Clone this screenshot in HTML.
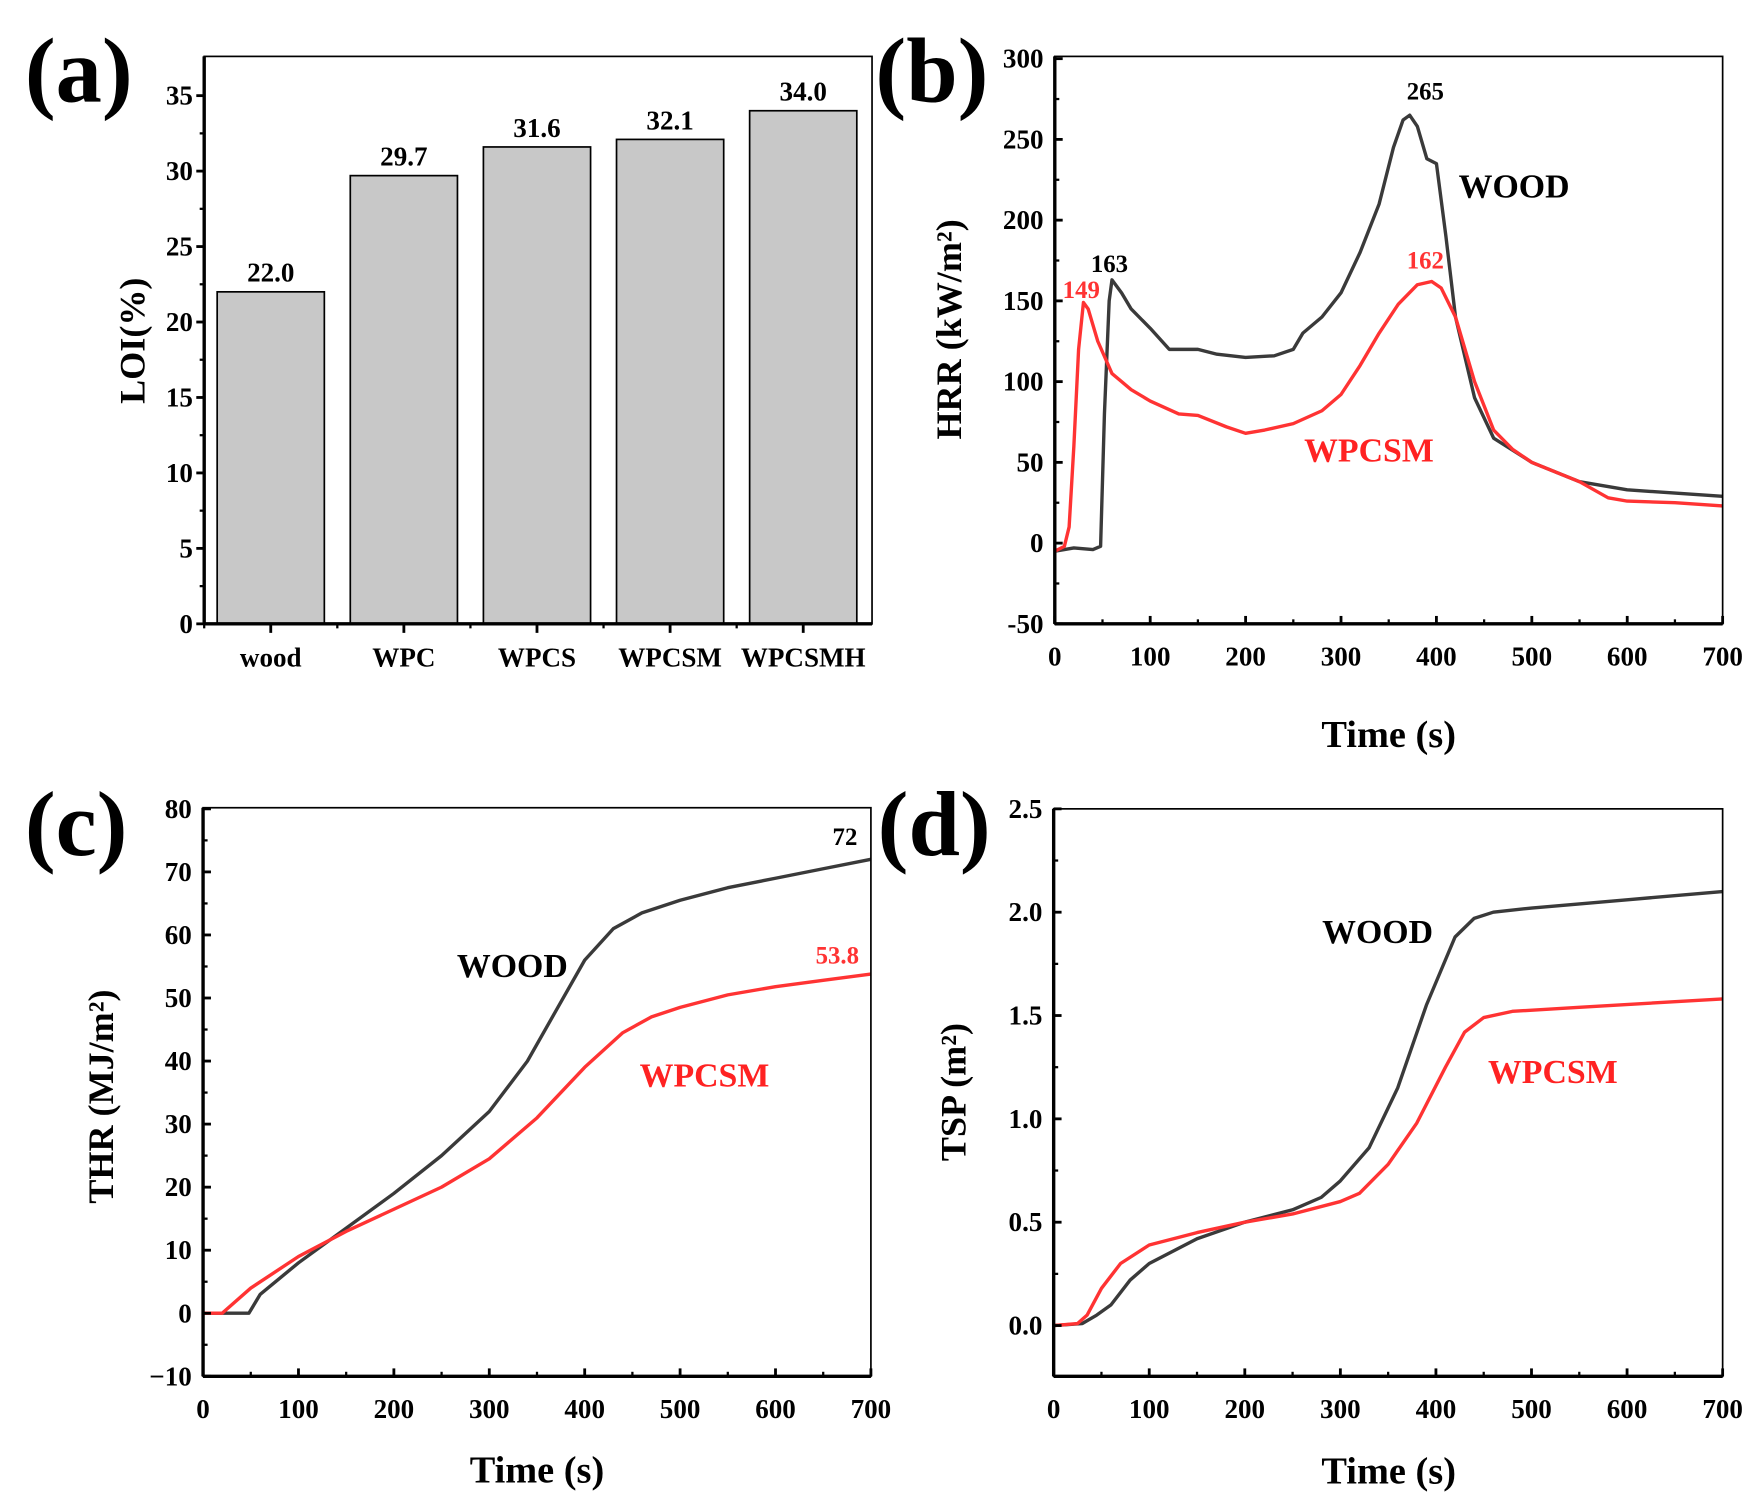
<!DOCTYPE html>
<html><head><meta charset="utf-8">
<style>
html,body{margin:0;padding:0;background:#fff;}
svg{display:block;}
text{font-family:"Liberation Serif",serif;font-weight:bold;}
</style></head>
<body>
<svg id="fig" width="1761" height="1504" viewBox="0 0 1561 1333.2" xmlns="http://www.w3.org/2000/svg"></svg>
<script>
// ---- Panel (a) data ----
const loiCategories = ["wood","WPC","WPCS","WPCSM","WPCSMH"];
const loiValues = [22.0, 29.7, 31.6, 32.1, 34.0];
const loiTicks = [0,5,10,15,20,25,30,35];
// ---- Panel (b) data ----
const hrrWoodT = [0,20,40,48,52,57,60,70,80,100,120,150,170,200,230,250,260,280,300,320,340,355,365,372,380,390,400,410,420,440,460,500,550,600,650,700];
const hrrWoodV = [-5,-3,-4,-2,80,150,163,155,145,133,120,120,117,115,116,120,130,140,155,180,210,245,262,265,258,238,235,190,140,90,65,50,38,33,31,29];
const hrrWpcsmT = [0,10,15,20,25,30,35,45,60,80,100,130,150,180,200,220,250,280,300,320,340,360,380,395,405,420,440,460,480,500,550,580,600,650,700];
const hrrWpcsmV = [-5,-2,10,60,120,149,145,125,105,95,88,80,79,72,68,70,74,82,92,110,130,148,160,162,158,140,100,70,58,50,38,28,26,25,23];
const hrrTicks = [-50,0,50,100,150,200,250,300];
// ---- Panel (c) data ----
const thrWoodT = [0,48,60,100,150,200,250,300,340,370,400,430,460,500,550,600,650,700];
const thrWoodV = [0,0,3,8,13.5,19,25,32,40,48,56,61,63.5,65.5,67.5,69,70.5,72];
const thrWpcsmT = [0,20,50,100,150,200,250,300,350,400,440,470,500,550,600,650,700];
const thrWpcsmV = [0,0,4,9,13,16.5,20,24.5,31,39,44.5,47,48.5,50.5,51.8,52.8,53.8];
const thrTicks = [-10,0,10,20,30,40,50,60,70,80];
// ---- Panel (d) data ----
const tspWoodT = [0,30,45,60,80,100,150,200,250,280,300,330,360,390,420,440,460,500,600,700];
const tspWoodV = [0,0.01,0.05,0.1,0.22,0.3,0.42,0.5,0.56,0.62,0.7,0.86,1.15,1.55,1.88,1.97,2.0,2.02,2.06,2.1];
const tspWpcsmT = [0,25,35,50,70,100,150,200,250,300,320,350,380,410,430,450,480,550,700];
const tspWpcsmV = [0,0.01,0.05,0.18,0.3,0.39,0.45,0.5,0.54,0.6,0.64,0.78,0.98,1.25,1.42,1.49,1.52,1.54,1.58];
const tspTicks = ["0.0","0.5","1.0","1.5","2.0","2.5"];
const timeTicks = [0,100,200,300,400,500,600,700];

const NS="http://www.w3.org/2000/svg";
const svg=document.getElementById('fig');
function mk(tag,attrs,parent,txt){const e=document.createElementNS(NS,tag);for(const k in attrs)e.setAttribute(k,attrs[k]);if(txt!==undefined)e.textContent=txt;(parent||svg).appendChild(e);return e;}
function lin(d0,d1,r0,r1){return v=>r0+(v-d0)*(r1-r0)/(d1-d0);}

function frame(g,L,T,R,B){
  const f=mk('rect',{x:L,y:T,width:R-L,height:B-T,fill:'none',stroke:'#000','stroke-width':1.5},g);
  
  mk('line',{x1:L,y1:T,x2:L,y2:B,stroke:'#000','stroke-width':3},g);
  mk('line',{x1:L,y1:B,x2:R,y2:B,stroke:'#000','stroke-width':3},g);
}
function panelLabel(txt,x,y){const t=mk('text',{x:x,y:y,'font-size':82},svg,txt);}

function yAxis(g,ticks,vals,ys,L,fs,out){
  for(let i=0;i<ticks.length;i++){const y=ys(vals[i]);
    mk('line',{x1:L,y1:y,x2:out?L-7:L+7,y2:y,stroke:'#000','stroke-width':2.5},g);
    const t=mk('text',{x:L-10,y:y+8,'font-size':fs,'text-anchor':'end'},g,ticks[i]);
    
    if(i<ticks.length-1){const ym=ys((vals[i]+vals[i+1])/2);mk('line',{x1:L,y1:ym,x2:out?L-4:L+4,y2:ym,stroke:'#000','stroke-width':2},g);}
  }
}
function xAxisTime(g,xs,B){
  for(let i=0;i<timeTicks.length;i++){const x=xs(timeTicks[i]);
    mk('line',{x1:x,y1:B,x2:x,y2:B-7,stroke:'#000','stroke-width':2.5},g);
    const t=mk('text',{x:x,y:B+37,'font-size':24,'text-anchor':'middle'},g,timeTicks[i]);
    
    if(i<timeTicks.length-1){const xm=xs(timeTicks[i]+50);mk('line',{x1:xm,y1:B,x2:xm,y2:B-4,stroke:'#000','stroke-width':2},g);}
  }
}
function series(g,T,V,xs,ys,col,name){
  const d=T.map((t,i)=>(i?'L':'M')+xs(t).toFixed(1)+','+ys(V[i]).toFixed(1)).join('');
  const p=mk('path',{d:d,fill:'none',stroke:col,'stroke-width':3,'stroke-linejoin':'round'},g);
  
}
function txt(g,s,x,y,fs,col,name,anchor){const t=mk('text',{x:x,y:y,'font-size':fs,fill:col,'text-anchor':anchor||'start'},g,s);return t;}
function vtitle(g,s,x,y,name){const t=mk('text',{x:x,y:y,'font-size':32,'text-anchor':'middle',transform:`rotate(-90 ${x} ${y})`},g,s);}

// ---- (a) ----
(function(){
  const g=mk('g',{});
  const L=181,T=50,R=773,B=553;
  const ys=lin(0,37.6,B,T);
  const xc=i=>240+118*i;
  loiValues.forEach((v,i)=>{
    const r=mk('rect',{x:xc(i)-47.5,y:ys(v),width:95,height:B-ys(v),fill:'#c8c8c8',stroke:'#000','stroke-width':1.5},g);
    
    txt(g,v.toFixed(1),xc(i),ys(v)-9,24,'#000','bar-value-label','middle');
    mk('line',{x1:xc(i),y1:B,x2:xc(i),y2:B+8,stroke:'#000','stroke-width':2.5},g);
    txt(g,loiCategories[i],xc(i),B+38,24,'#000','x-category-label','middle');
    if(i<loiValues.length){mk('line',{x1:xc(i)-59,y1:B,x2:xc(i)-59,y2:B+4,stroke:'#000','stroke-width':2},g);}
  });
  frame(g,L,T,R,B);
  yAxis(g,loiTicks,loiTicks,ys,L,24,true);
  vtitle(g,'LOI(%)',128,302,'y-axis-title');
  panelLabel('(a)',22,90);
})();
// ---- (b) ----
(function(){
  const g=mk('g',{});
  const L=935,T=50,R=1527,B=553;
  const xs=lin(0,700,L,R),ys=lin(-50,300,B,52);
  series(g,hrrWoodT,hrrWoodV,xs,ys,'#3a3a3a','wood-hrr-line');
  series(g,hrrWpcsmT,hrrWpcsmV,xs,ys,'#ff3333','wpcsm-hrr-line');
  frame(g,L,T,R,B);
  yAxis(g,hrrTicks,hrrTicks,ys,L,24,false);
  xAxisTime(g,xs,B);
  txt(g,'265',1247,88,22,'#000','peak-label-wood');
  txt(g,'163',967,241,22,'#000','peak-label-wood-first');
  txt(g,'149',942,264,22,'#ff3333','peak-label-wpcsm-first');
  txt(g,'162',1247,238,22,'#ff3333','peak-label-wpcsm','start');
  txt(g,'WOOD',1293,175,30,'#000','legend-wood');
  txt(g,'WPCSM',1156,409,30,'#ff2222','legend-wpcsm');
  vtitle(g,'HRR (kW/m²)',852,292,'y-axis-title');
  txt(g,'Time (s)',1231,662,34,'#000','x-axis-title','middle');
  panelLabel('(b)',776,90);
})();
// ---- (c) ----
(function(){
  const g=mk('g',{});
  const L=180,T=716,R=772,B=1220;
  const xs=lin(0,700,L,R),ys=lin(-10,80,B,717);
  series(g,thrWoodT,thrWoodV,xs,ys,'#3a3a3a','wood-thr-line');
  series(g,thrWpcsmT,thrWpcsmV,xs,ys,'#ff3333','wpcsm-thr-line');
  frame(g,L,T,R,B);
  yAxis(g,thrTicks.map(v=>v<0?'−'+(-v):v),thrTicks,ys,L,24,false);
  xAxisTime(g,xs,B);
  txt(g,'72',738,749,22,'#000','end-label-wood');
  txt(g,'53.8',723,854,22,'#ff3333','end-label-wpcsm');
  txt(g,'WOOD',405,866,30,'#000','legend-wood');
  txt(g,'WPCSM',567,963,30,'#ff2222','legend-wpcsm');
  vtitle(g,'THR (MJ/m²)',100,972,'y-axis-title');
  txt(g,'Time (s)',476,1314,34,'#000','x-axis-title','middle');
  panelLabel('(c)',22,758);
})();
// ---- (d) ----
(function(){
  const g=mk('g',{});
  const L=934,T=717,R=1527,B=1220;
  const xs=lin(0,700,L,R),ys=lin(0,2.5,1175,717);
  series(g,tspWoodT,tspWoodV,xs,ys,'#3a3a3a','wood-tsp-line');
  series(g,tspWpcsmT,tspWpcsmV,xs,ys,'#ff3333','wpcsm-tsp-line');
  frame(g,L,T,R,B);
  yAxis(g,tspTicks,tspTicks.map(Number),ys,L,24,false);
  xAxisTime(g,xs,B);
  txt(g,'WOOD',1172,836,30,'#000','legend-wood');
  txt(g,'WPCSM',1319,960,30,'#ff2222','legend-wpcsm');
  vtitle(g,'TSP (m²)',856,968,'y-axis-title');
  txt(g,'Time (s)',1231,1315,34,'#000','x-axis-title','middle');
  panelLabel('(d)',778,758);
})();
</script>
</body></html>
